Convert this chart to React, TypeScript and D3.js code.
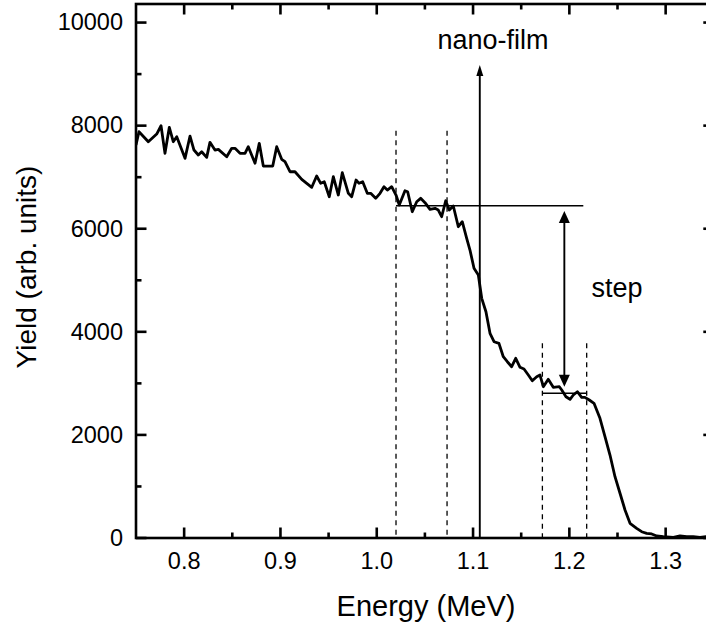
import React from "react";
import * as d3 from "d3";

const energy = [
  0.750, 0.7531, 0.7628, 0.7715, 0.776, 0.7801, 0.7846, 0.7887, 0.7923, 0.8009,
  0.8061, 0.8102, 0.8147, 0.8182, 0.8234, 0.8268, 0.832, 0.8355, 0.8442, 0.8494,
  0.8528, 0.858, 0.8632, 0.8666, 0.8736, 0.878, 0.8822, 0.892, 0.8961, 0.9013,
  0.9047, 0.9099, 0.9151, 0.9221, 0.9273, 0.9325, 0.9376, 0.9418, 0.9455, 0.9507,
  0.9549, 0.9601, 0.9642, 0.9705, 0.974, 0.9785, 0.9816, 0.9854, 0.9902, 0.9937,
  0.9989, 1.0034, 1.0075, 1.011, 1.0155, 1.02, 1.0234, 1.0293, 1.0321, 1.0369,
  1.0415, 1.0456, 1.0501, 1.0553, 1.0605, 1.0639, 1.0674, 1.0716, 1.0753, 1.0795,
  1.0847, 1.0888, 1.0934, 1.0968, 1.101, 1.1055, 1.109, 1.1134, 1.1176, 1.1218,
  1.1269, 1.1314, 1.1356, 1.1401, 1.1443, 1.1488, 1.1529, 1.1574, 1.1615, 1.1661,
  1.1695, 1.173, 1.1781, 1.1833, 1.1896, 1.1921, 1.1965, 1.2007, 1.2041, 1.2083,
  1.2128, 1.2162, 1.2207, 1.2256, 1.2318, 1.237, 1.2422, 1.2474, 1.2526, 1.2578,
  1.263, 1.2699, 1.2751, 1.2803, 1.2855, 1.2907, 1.2976, 1.308, 1.3149, 1.3219,
  1.3287, 1.3357, 1.3419, 1.35,
];
const yieldValues = [
  7624, 7882, 7688, 7837, 7998, 7463, 7967, 7688, 7785, 7366,
  7798, 7527, 7430, 7494, 7385, 7676, 7527, 7540, 7397, 7560,
  7560, 7463, 7463, 7591, 7269, 7657, 7216, 7216, 7591, 7346,
  7300, 7106, 7106, 6958, 6881, 6804, 7022, 6881, 6912, 6621,
  7009, 6654, 7087, 6687, 6621, 6945, 6881, 6912, 6687, 6687,
  6590, 6687, 6815, 6751, 6815, 6654, 6460, 6737, 6718, 6330,
  6524, 6590, 6505, 6376, 6396, 6363, 6233, 6543, 6363, 6441,
  6039, 6136, 5814, 5587, 5232, 5102, 4650, 4390, 3971, 3808,
  3777, 3517, 3420, 3323, 3486, 3311, 3278, 3162, 3051, 3129,
  3162, 2935, 3079, 2923, 2935, 2871, 2741, 2691, 2774, 2838,
  2729, 2729, 2677, 2613, 2322, 1965, 1610, 1189, 868, 543,
  285, 188, 122, 91, 78, 39, 25, 14, 39, 25,
  25, 14, 25, 20,
];

const xMajorTicks = [0.8, 0.9, 1.0, 1.1, 1.2, 1.3];
const xTickLabels = ["0.8", "0.9", "1.0", "1.1", "1.2", "1.3"];
const xMinorTicks = [0.85, 0.95, 1.05, 1.15, 1.25];
const yMajorTicks = [0, 2000, 4000, 6000, 8000, 10000];
const yTickLabels = ["0", "2000", "4000", "6000", "8000", "10000"];
const yMinorTicks = [1000, 3000, 5000, 7000, 9000];

// Annotation data
const dashedLines = [
  { e: 1.02, top: 7900 },
  { e: 1.073, top: 7900 },
  { e: 1.172, top: 3780 },
  { e: 1.218, top: 3780 },
];
const upperLevel = { from: 1.02, to: 1.2145, y: 6446 };
const lowerLevel = { from: 1.172, to: 1.218, y: 2807 };
const nanoFilmArrow = { e: 1.107, from: 0, to: 9176 };
const stepArrow = { e: 1.1948, top: 6343, bottom: 2935 };

const W = 706;
const H = 628;
const FONT = "'Liberation Sans', Arial, Helvetica, sans-serif";

export default function App() {
  const x = d3.scaleLinear().domain([0.75, 1.35]).range([136, 713.8]);
  const y = d3.scaleLinear().domain([0, 10360]).range([538, 4]);
  const [x0, x1] = x.range();
  const [y0, y1] = y.range();

  const pts: [number, number][] = energy.map((e, i) => [e, yieldValues[i]]);
  const line = d3
    .line<[number, number]>()
    .x((d) => x(d[0]))
    .y((d) => y(d[1]));

  const majLen = 10.5;
  const minLen = 5.5;
  const axisW = 2.6;

  const ax = nanoFilmArrow.e;
  const sx = x(stepArrow.e);

  return (
    <svg
      width={W}
      height={H}
      style={{ position: "absolute", left: 0, top: 0, background: "#fff" }}
      fontFamily={FONT}
    >
      <rect x={0} y={0} width={W} height={H} fill="#fff" />
      <defs>
        <clipPath id="plotclip">
          <rect x={x0} y={y1} width={x1 - x0} height={y0 - y1} />
        </clipPath>
      </defs>

      {/* dashed lines */}
      {dashedLines.map((d, i) => (
        <line
          key={"dash" + i}
          x1={x(d.e)}
          x2={x(d.e)}
          y1={y(d.top)}
          y2={y0}
          stroke="#000"
          strokeWidth={1.3}
          strokeDasharray="5,4.5"
        />
      ))}

      {/* level lines */}
      <line x1={x(upperLevel.from)} x2={x(upperLevel.to)} y1={y(upperLevel.y)} y2={y(upperLevel.y)} stroke="#000" strokeWidth={1.6} />
      <line x1={x(lowerLevel.from)} x2={x(lowerLevel.to)} y1={y(lowerLevel.y)} y2={y(lowerLevel.y)} stroke="#000" strokeWidth={1.6} />

      {/* nano-film arrow */}
      <line x1={x(ax)} x2={x(ax)} y1={y(nanoFilmArrow.from)} y2={y(nanoFilmArrow.to) + 8} stroke="#000" strokeWidth={1.9} />
      <polygon
        points={`${x(ax)},${y(nanoFilmArrow.to)} ${x(ax) - 3.5},${y(nanoFilmArrow.to) + 11} ${x(ax) + 3.5},${y(nanoFilmArrow.to) + 11}`}
        fill="#000"
      />

      {/* step double arrow */}
      <line x1={sx} x2={sx} y1={y(stepArrow.top) + 10} y2={y(stepArrow.bottom) - 10} stroke="#000" strokeWidth={1.9} />
      <polygon
        points={`${sx},${y(stepArrow.top)} ${sx - 5.5},${y(stepArrow.top) + 12} ${sx + 5.5},${y(stepArrow.top) + 12}`}
        fill="#000"
      />
      <polygon
        points={`${sx},${y(stepArrow.bottom)} ${sx - 5.5},${y(stepArrow.bottom) - 12} ${sx + 5.5},${y(stepArrow.bottom) - 12}`}
        fill="#000"
      />

      {/* data */}
      <g clipPath="url(#plotclip)">
        <path d={line(pts) || ""} fill="none" stroke="#000" strokeWidth={2.8} strokeLinejoin="round" />
      </g>

      {/* frame */}
      <rect x={x0} y={y1} width={x1 - x0} height={y0 - y1} fill="none" stroke="#000" strokeWidth={axisW} />

      {/* x ticks bottom & top */}
      {xMajorTicks.map((t) => (
        <g key={"xM" + t}>
          <line x1={x(t)} x2={x(t)} y1={y0} y2={y0 - majLen} stroke="#000" strokeWidth={axisW} />
          <line x1={x(t)} x2={x(t)} y1={y1} y2={y1 + majLen} stroke="#000" strokeWidth={axisW} />
        </g>
      ))}
      {xMinorTicks.map((t) => (
        <g key={"xm" + t}>
          <line x1={x(t)} x2={x(t)} y1={y0} y2={y0 - minLen} stroke="#000" strokeWidth={axisW} />
          <line x1={x(t)} x2={x(t)} y1={y1} y2={y1 + minLen} stroke="#000" strokeWidth={axisW} />
        </g>
      ))}
      {/* y ticks left & right */}
      {yMajorTicks.map((t) => (
        <g key={"yM" + t}>
          <line x1={x0} x2={x0 + majLen} y1={y(t)} y2={y(t)} stroke="#000" strokeWidth={axisW} />
          <line x1={x1} x2={x1 - majLen} y1={y(t)} y2={y(t)} stroke="#000" strokeWidth={axisW} />
        </g>
      ))}
      {yMinorTicks.map((t) => (
        <g key={"ym" + t}>
          <line x1={x0} x2={x0 + minLen} y1={y(t)} y2={y(t)} stroke="#000" strokeWidth={axisW} />
          <line x1={x1} x2={x1 - minLen} y1={y(t)} y2={y(t)} stroke="#000" strokeWidth={axisW} />
        </g>
      ))}

      {/* tick labels */}
      {xMajorTicks.map((t, i) => (
        <text key={"xl" + t} x={x(t)} y={569} textAnchor="middle" fontSize={23.5} fill="#000">
          {xTickLabels[i]}
        </text>
      ))}
      {yMajorTicks.map((t, i) => (
        <text key={"yl" + t} x={123} y={y(t) + 7.8} textAnchor="end" fontSize={23.5} fill="#000">
          {yTickLabels[i]}
        </text>
      ))}

      {/* axis titles */}
      <text x={426} y={616} textAnchor="middle" fontSize={29} fill="#000">
        Energy (MeV)
      </text>
      <text transform="translate(36,267) rotate(-90)" textAnchor="middle" fontSize={28} fill="#000">
        Yield (arb. units)
      </text>

      {/* annotations */}
      <text x={493} y={49} textAnchor="middle" fontSize={27} fill="#000">
        nano-film
      </text>
      <text x={591.5} y={297} textAnchor="start" fontSize={27} fill="#000">
        step
      </text>
    </svg>
  );
}
